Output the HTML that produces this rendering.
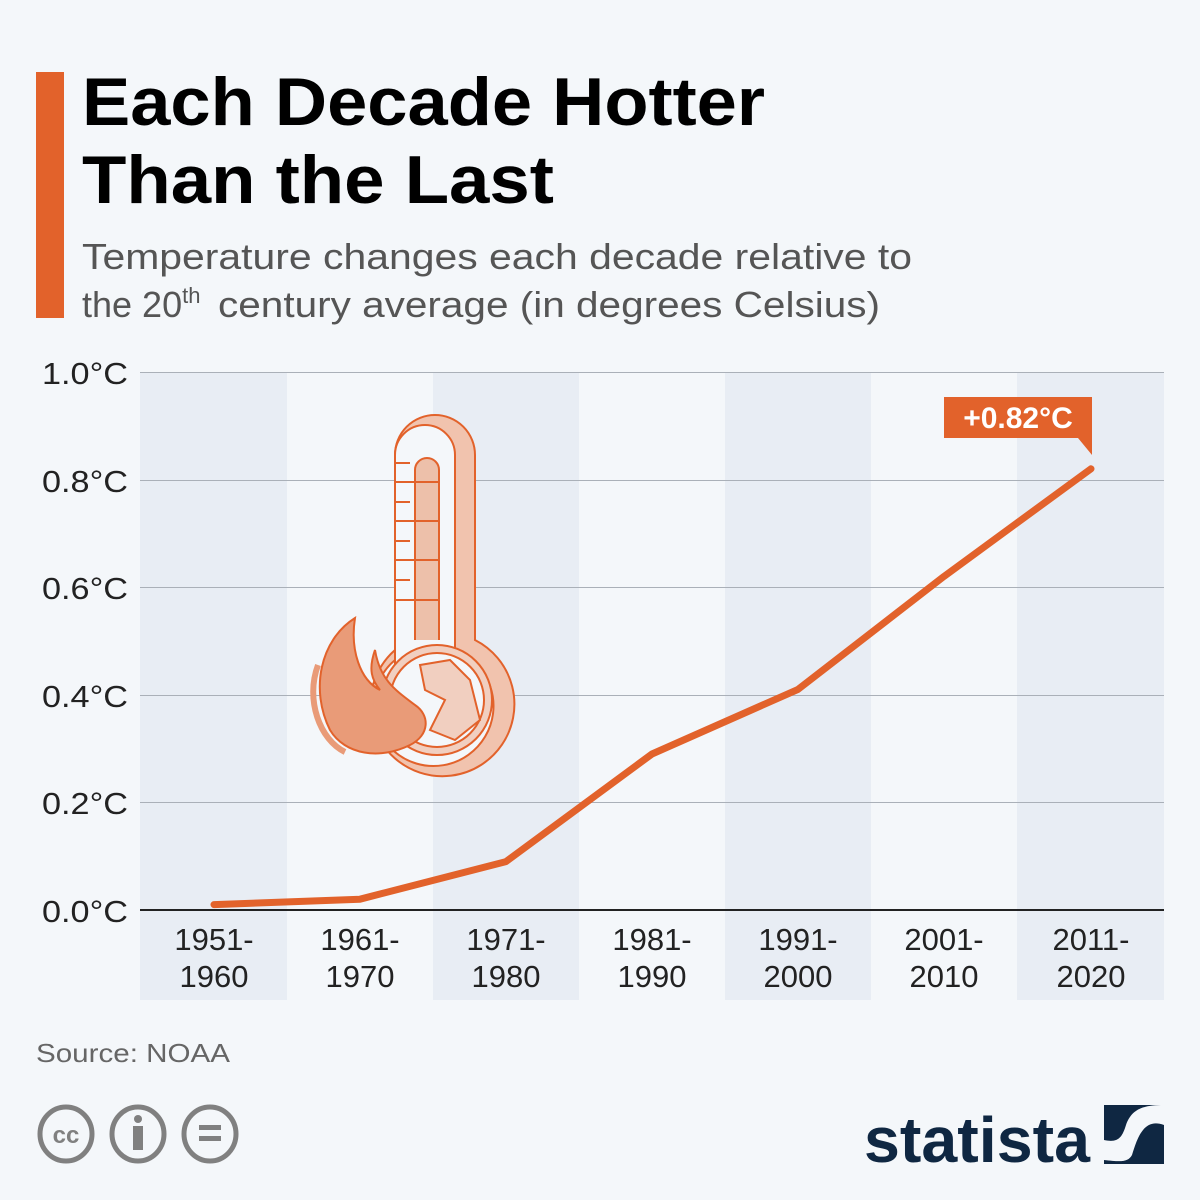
<!DOCTYPE html>
<html><head><meta charset="utf-8"><style>
html,body{margin:0;padding:0;background:#f4f7fa;}
svg{display:block;font-family:"Liberation Sans",sans-serif;}
</style></head><body>
<svg width="1200" height="1200" viewBox="0 0 1200 1200">
<rect width="1200" height="1200" fill="#f4f7fa"/>
<rect x="36" y="72" width="28" height="246" fill="#e2622b"/>
<text x="82" y="125" font-size="68" font-weight="bold" fill="#000" textLength="683" lengthAdjust="spacingAndGlyphs">Each Decade Hotter</text>
<text x="82" y="203" font-size="68" font-weight="bold" fill="#000" textLength="472" lengthAdjust="spacingAndGlyphs">Than the Last</text>
<text x="82" y="269" font-size="36" fill="#555" textLength="830" lengthAdjust="spacingAndGlyphs">Temperature changes each decade relative to</text>
<text x="82" y="317" font-size="36" fill="#555">the 20<tspan font-size="22" dy="-14">th</tspan></text>
<text x="218" y="317" font-size="36" fill="#555" textLength="662" lengthAdjust="spacingAndGlyphs">century average (in degrees Celsius)</text>
<g fill="#e8edf4">
<rect x="140" y="372" width="147" height="628"/>
<rect x="433" y="372" width="146" height="628"/>
<rect x="725" y="372" width="146" height="628"/>
<rect x="1017" y="372" width="147" height="628"/>
</g>
<g stroke="#aab0b8" stroke-width="1">
<line x1="140" x2="1164" y1="372.5" y2="372.5"/>
<line x1="140" x2="1164" y1="480.5" y2="480.5"/>
<line x1="140" x2="1164" y1="587.5" y2="587.5"/>
<line x1="140" x2="1164" y1="695.5" y2="695.5"/>
<line x1="140" x2="1164" y1="802.5" y2="802.5"/>
</g>
<line x1="140" x2="1164" y1="910" y2="910" stroke="#222" stroke-width="2"/>
<g font-size="31" fill="#222">
<text x="42" y="384" textLength="86" lengthAdjust="spacingAndGlyphs">1.0°C</text>
<text x="42" y="492" textLength="86" lengthAdjust="spacingAndGlyphs">0.8°C</text>
<text x="42" y="599" textLength="86" lengthAdjust="spacingAndGlyphs">0.6°C</text>
<text x="42" y="707" textLength="86" lengthAdjust="spacingAndGlyphs">0.4°C</text>
<text x="42" y="814" textLength="86" lengthAdjust="spacingAndGlyphs">0.2°C</text>
<text x="42" y="922" textLength="86" lengthAdjust="spacingAndGlyphs">0.0°C</text>
</g>
<g font-size="31" fill="#222" text-anchor="middle">
<text x="214" y="950">1951-</text><text x="214" y="987">1960</text>
<text x="360" y="950">1961-</text><text x="360" y="987">1970</text>
<text x="506" y="950">1971-</text><text x="506" y="987">1980</text>
<text x="652" y="950">1981-</text><text x="652" y="987">1990</text>
<text x="798" y="950">1991-</text><text x="798" y="987">2000</text>
<text x="944" y="950">2001-</text><text x="944" y="987">2010</text>
<text x="1091" y="950">2011-</text><text x="1091" y="987">2020</text>
</g>
<g stroke="#e2622b" stroke-width="2" fill="none">
<path d="M395 700 L395 455 A40 40 0 0 1 475 455 L475 640 A72 72 0 1 1 395 650 Z" fill="#f1c3ae"/>
<path d="M395 700 L395 455 A30 30 0 0 1 455 455 L455 650 A60 60 0 1 1 395 660 Z" fill="#f4f7fa"/>
<path d="M415 640 L415 470 A12 12 0 0 1 439 470 L439 640" fill="#edc0aa"/>
<circle cx="437" cy="700" r="55" fill="#f1cfc0"/>
<circle cx="437" cy="700" r="47" fill="#f4f7fa"/>
<path d="M420 665 L450 660 L470 680 L480 720 L455 740 L430 730 L445 700 L425 690 Z" fill="#f1cfc0"/>
<g stroke-width="2"><line x1="396" x2="410" y1="463" y2="463"/><line x1="396" x2="440" y1="482" y2="482"/><line x1="396" x2="410" y1="502" y2="502"/><line x1="396" x2="440" y1="521" y2="521"/><line x1="396" x2="410" y1="541" y2="541"/><line x1="396" x2="440" y1="560" y2="560"/><line x1="396" x2="410" y1="580" y2="580"/><line x1="396" x2="440" y1="600" y2="600"/></g>
<path d="M355 618 C320 640 310 690 330 730 C345 755 380 760 410 745 C430 735 430 715 415 705 C395 690 380 680 375 650 C368 670 372 680 380 690 C360 680 350 650 355 618 Z" fill="#e99b78"/>
<path d="M318 665 C305 700 320 740 345 752" stroke="#e99b78" stroke-width="6"/>
</g>
<polyline points="214,904.6 360,899.2 506,861.6 652,754 798,689.4 944,576.4 1091,468.8" fill="none" stroke="#e2622b" stroke-width="7" stroke-linejoin="round" stroke-linecap="round"/>
<path d="M944 397 H1092 V455 L1078 438 H944 Z" fill="#e2622b"/>
<text x="1018" y="428" font-size="30" font-weight="bold" fill="#fff" text-anchor="middle">+0.82°C</text>
<text x="36" y="1062" font-size="26" fill="#666" textLength="194" lengthAdjust="spacingAndGlyphs">Source: NOAA</text>
<g stroke="#808080" stroke-width="5" fill="none">
<ellipse cx="66" cy="1134" rx="26" ry="27"/>
<ellipse cx="138" cy="1134" rx="26" ry="27"/>
<ellipse cx="210" cy="1134" rx="26" ry="27"/>
</g>
<text x="66" y="1143" font-size="24" font-weight="bold" fill="#808080" text-anchor="middle">cc</text>
<circle cx="138" cy="1119" r="4" fill="#808080"/>
<rect x="133" y="1126" width="10" height="24" fill="#808080"/>
<rect x="199" y="1125" width="22" height="5" fill="#808080"/>
<rect x="199" y="1136" width="22" height="5" fill="#808080"/>
<text x="864" y="1162" font-size="64" font-weight="bold" fill="#0f2742" textLength="226" lengthAdjust="spacingAndGlyphs">statista</text>
<rect x="1104" y="1105" width="60" height="59" fill="#0f2742"/>
<path d="M1164 1125 C1145 1118 1138 1135 1132 1155 C1128 1162 1122 1162 1104 1160 L1104 1140 C1118 1143 1122 1138 1126 1125 C1132 1108 1145 1105 1164 1105 Z" fill="#f4f7fa"/>
</svg>
</body></html>
